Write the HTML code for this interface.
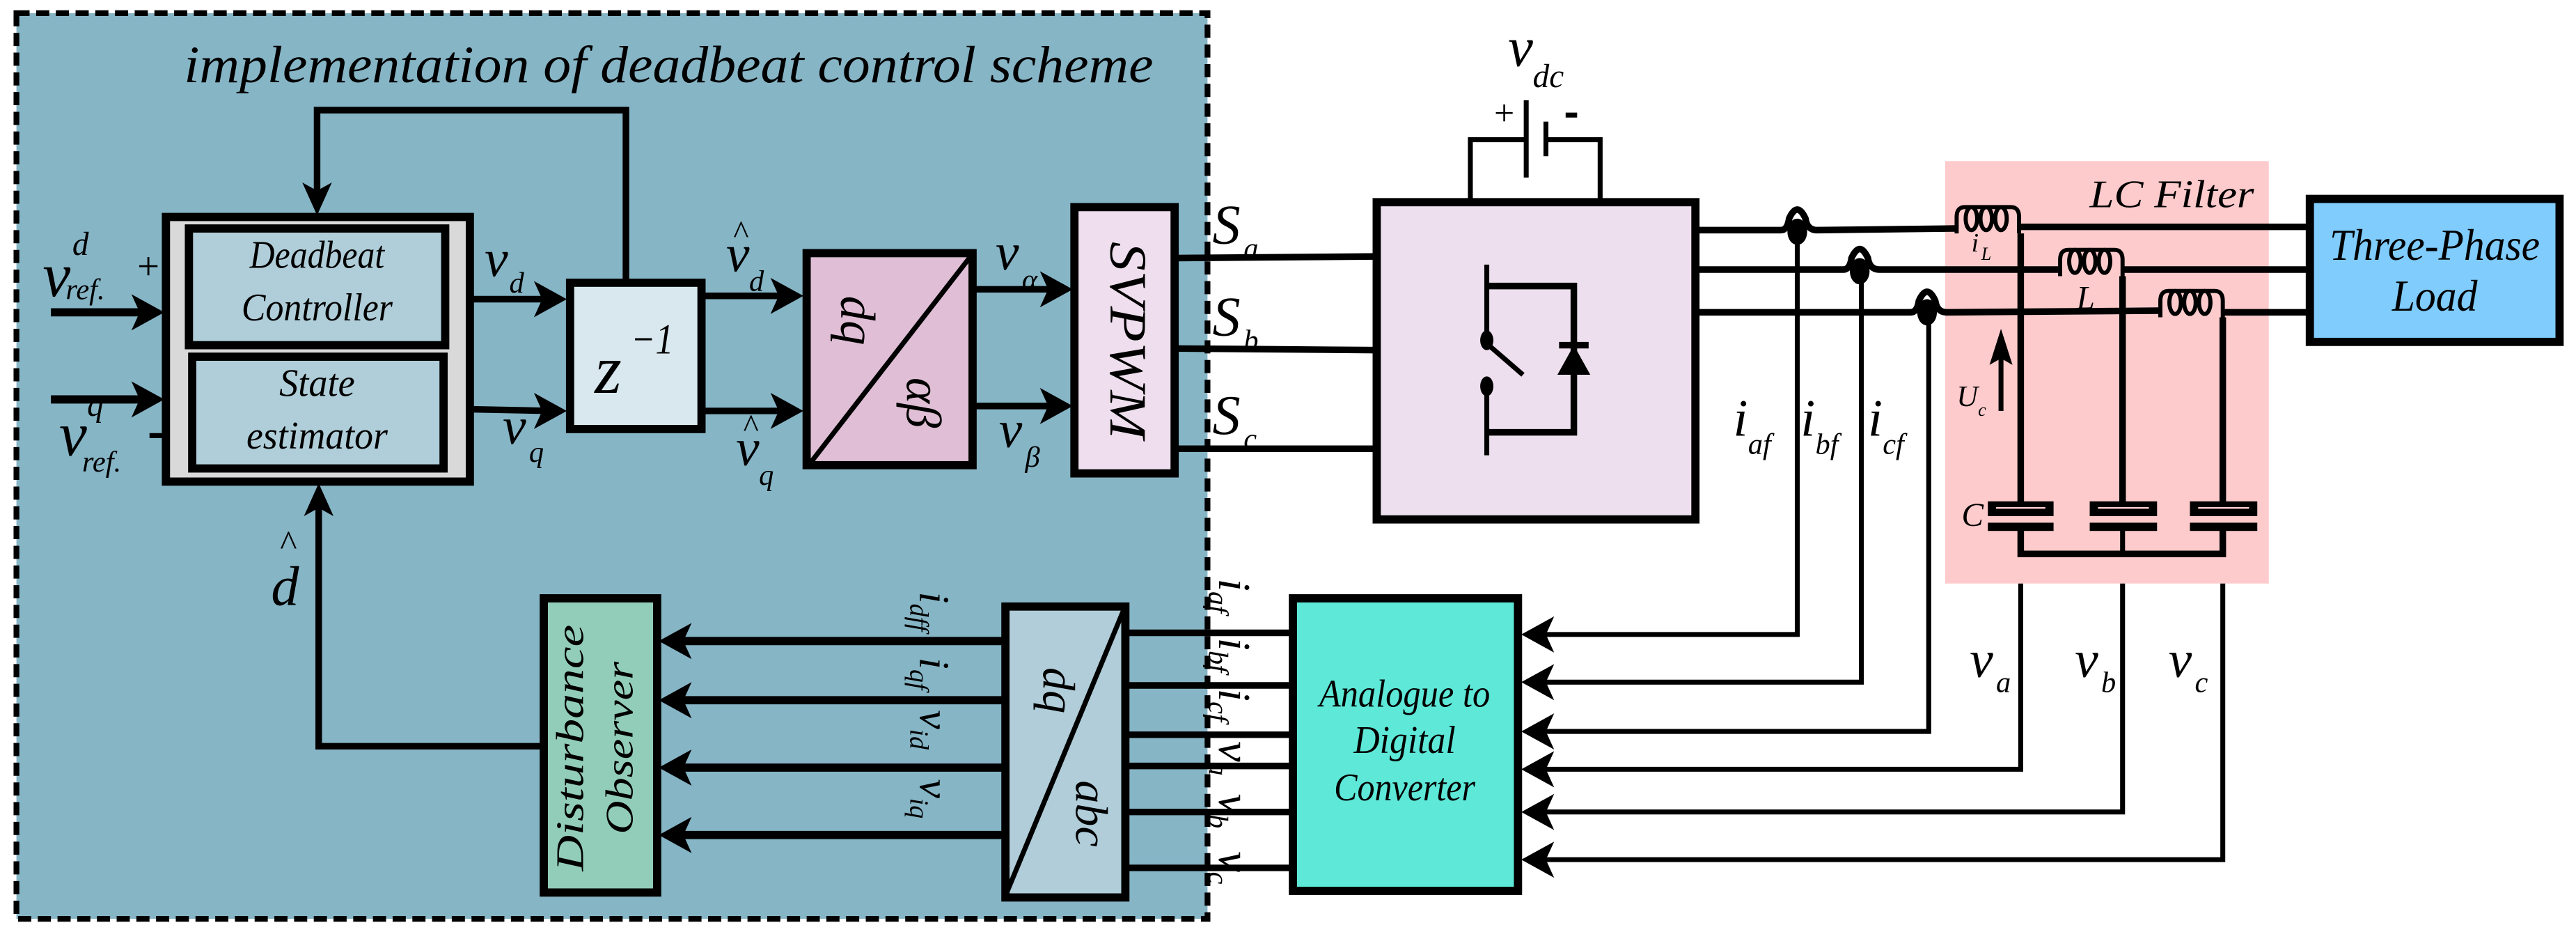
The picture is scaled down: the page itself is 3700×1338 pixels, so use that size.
<!DOCTYPE html>
<html><head><meta charset="utf-8"><style>
html,body{margin:0;padding:0;background:#fff;}
svg{display:block;}
svg text{font-family:"Liberation Serif","Times New Roman","DejaVu Serif",serif;font-style:italic;fill:#000;}
</style></head><body>
<svg width="3700" height="1338" viewBox="0 0 1568 567" xmlns="http://www.w3.org/2000/svg" font-family="Liberation Serif, Times New Roman, DejaVu Serif, serif">
<rect x="10" y="8" width="725" height="551" fill="#86b5c6" stroke="#000" stroke-width="3.5" stroke-dasharray="8,4"/>
<text x="112" y="50" font-size="32" textLength="590" lengthAdjust="spacingAndGlyphs">implementation of deadbeat control scheme</text>

<polyline points="381,171 381,67 193,67 193,120" fill="none" stroke="#000" stroke-width="4"/>
<polygon points="193,131 184,111 193,116 202,111" fill="#000"/>

<rect x="101" y="132" width="185" height="161" fill="#d9d9d9" stroke="#000" stroke-width="5"/>
<rect x="115" y="139" width="156" height="71" fill="#b0ced9" stroke="#000" stroke-width="5"/>
<rect x="117" y="217" width="153" height="68" fill="#b0ced9" stroke="#000" stroke-width="5"/>
<text x="193" y="163" font-size="24" text-anchor="middle" textLength="82" lengthAdjust="spacingAndGlyphs">Deadbeat</text>
<text x="193" y="195" font-size="24" text-anchor="middle" textLength="92" lengthAdjust="spacingAndGlyphs">Controller</text>
<text x="193" y="241" font-size="24" text-anchor="middle" textLength="46" lengthAdjust="spacingAndGlyphs">State</text>
<text x="193" y="273" font-size="24" text-anchor="middle" textLength="86" lengthAdjust="spacingAndGlyphs">estimator</text>

<line x1="31" y1="190" x2="92" y2="190" stroke="#000" stroke-width="5"/>
<polygon points="100,190 80,179 85,190 80,201" fill="#000"/>
<line x1="31" y1="243" x2="92" y2="243" stroke="#000" stroke-width="5"/>
<polygon points="100,243 80,232 85,243 80,254" fill="#000"/>
<text x="26" y="180" font-size="38">v</text>
<text x="44" y="155" font-size="20">d</text>
<text x="40" y="182" font-size="18">ref.</text>
<text x="82" y="170" font-size="24" font-style="normal">+</text>
<text x="36" y="277" font-size="38">v</text>
<text x="53" y="253" font-size="20">q</text>
<text x="50" y="287" font-size="18">ref.</text>
<line x1="91" y1="265" x2="99" y2="265" stroke="#000" stroke-width="3"/>

<line x1="287" y1="182" x2="336" y2="182" stroke="#000" stroke-width="4"/>
<polygon points="345,182 325,171 330,182 325,193" fill="#000"/>
<line x1="287" y1="249" x2="336" y2="250" stroke="#000" stroke-width="4"/>
<polygon points="345,250 325,239 330,250 325,261" fill="#000"/>
<text x="295" y="168" font-size="32">v</text><text x="310" y="178" font-size="18">d</text>
<text x="306" y="270" font-size="32">v</text><text x="322" y="281" font-size="18">q</text>

<rect x="347" y="172" width="80" height="89" fill="#d9e8ef" stroke="#000" stroke-width="5"/>
<text x="362" y="239" font-size="42">z</text>
<text x="384" y="215" font-size="26" font-style="normal" textLength="26" lengthAdjust="spacingAndGlyphs">−1</text>

<line x1="428" y1="180" x2="480" y2="180" stroke="#000" stroke-width="4"/>
<polygon points="489,180 469,169 474,180 469,191" fill="#000"/>
<line x1="428" y1="250" x2="480" y2="250" stroke="#000" stroke-width="4"/>
<polygon points="489,250 469,239 474,250 469,261" fill="#000"/>
<text x="442" y="165" font-size="32">v</text><text x="446" y="148" font-size="20" font-style="normal">^</text><text x="456" y="177" font-size="18">d</text>
<text x="448" y="283" font-size="32">v</text><text x="452" y="266" font-size="20" font-style="normal">^</text><text x="462" y="295" font-size="18">q</text>

<rect x="491" y="154" width="101" height="129" fill="#e0bfd6" stroke="#000" stroke-width="5"/>
<line x1="590" y1="157" x2="493" y2="282" stroke="#000" stroke-width="3"/>
<text transform="translate(512,195) rotate(90)" font-size="30" text-anchor="middle">dq</text>
<text transform="translate(552,245) rotate(90)" font-size="30" text-anchor="middle">αβ</text>

<line x1="593" y1="176" x2="644" y2="176" stroke="#000" stroke-width="4"/>
<polygon points="653,176 633,165 638,176 633,187" fill="#000"/>
<line x1="593" y1="247" x2="644" y2="247" stroke="#000" stroke-width="4"/>
<polygon points="653,247 633,236 638,247 633,258" fill="#000"/>
<text x="606" y="164" font-size="32">v</text><text x="622" y="176" font-size="18">α</text>
<text x="608" y="272" font-size="32">v</text><text x="624" y="284" font-size="18">β</text>

<rect x="654" y="126" width="61" height="162" fill="#efdfee" stroke="#000" stroke-width="5"/>
<text transform="translate(676,207) rotate(90)" font-size="32" text-anchor="middle" textLength="120" lengthAdjust="spacingAndGlyphs">SVPWM</text>

<line x1="715" y1="157" x2="838" y2="156" stroke="#000" stroke-width="4"/>
<line x1="715" y1="212" x2="838" y2="213" stroke="#000" stroke-width="4"/>
<line x1="715" y1="273" x2="838" y2="273" stroke="#000" stroke-width="4"/>
<text x="738" y="148" font-size="34">S</text><text x="757" y="157" font-size="18">a</text>
<text x="738" y="204" font-size="34">S</text><text x="757" y="213" font-size="18">b</text>
<text x="738" y="264" font-size="34">S</text><text x="757" y="273" font-size="18">c</text>

<rect x="838" y="123" width="194" height="193" fill="#eedfee" stroke="#000" stroke-width="5"/>
<polyline points="895,121 895,85 929,85" fill="none" stroke="#000" stroke-width="3"/>
<polyline points="941,85 974,85 974,121" fill="none" stroke="#000" stroke-width="3"/>
<line x1="929" y1="61" x2="929" y2="108" stroke="#000" stroke-width="3"/>
<line x1="941" y1="74" x2="941" y2="95" stroke="#000" stroke-width="3"/>
<text x="908" y="76" font-size="22" font-style="normal">+</text>
<line x1="953" y1="70" x2="960" y2="70" stroke="#000" stroke-width="3"/>
<text x="918" y="40" font-size="34">v</text><text x="933" y="53" font-size="20">dc</text>
<polyline points="905,161 905,205" fill="none" stroke="#000" stroke-width="3"/>
<ellipse cx="905" cy="207" rx="4" ry="6" fill="#000"/>
<line x1="905" y1="209" x2="927" y2="228" stroke="#000" stroke-width="3"/>
<ellipse cx="905" cy="235" rx="4" ry="6" fill="#000"/>
<line x1="905" y1="235" x2="905" y2="277" stroke="#000" stroke-width="3"/>
<polyline points="905,174 958,174 958,263 905,263" fill="none" stroke="#000" stroke-width="4"/>
<polygon points="958,210 948,228 968,228" fill="#000"/>
<line x1="949" y1="210" x2="967" y2="210" stroke="#000" stroke-width="4"/>

<rect x="1184" y="98" width="197" height="257" fill="#fecbcc"/>
<text x="1272" y="126" font-size="24" textLength="100" lengthAdjust="spacingAndGlyphs">LC Filter</text>

<path d="M1032,140 H1084 Q1088,140 1089,133 Q1094,122 1099,133 Q1100,140 1106,140 L1190,139" fill="none" stroke="#000" stroke-width="4"/>
<path d="M1032,164 H1122 Q1126,164 1127,157 Q1132,146 1137,157 Q1138,164 1144,164 L1253,164" fill="none" stroke="#000" stroke-width="4"/>
<path d="M1032,190 H1163 Q1167,190 1168,183 Q1173,172 1178,183 Q1179,190 1185,190 L1314,189" fill="none" stroke="#000" stroke-width="4"/>
<line x1="1229" y1="138" x2="1404" y2="138" stroke="#000" stroke-width="4"/>
<line x1="1292" y1="164" x2="1404" y2="164" stroke="#000" stroke-width="4"/>
<line x1="1352" y1="190" x2="1404" y2="190" stroke="#000" stroke-width="4"/>
<g fill="none" stroke="#000" stroke-width="2.5">
<path d="M1191,142 v-10 q0,-6 5,-6 h28 q5,0 5,6 v10"/>
<ellipse cx="1200" cy="133" rx="3.5" ry="7"/><ellipse cx="1209" cy="133" rx="3.5" ry="7"/><ellipse cx="1218" cy="133" rx="3.5" ry="7"/>
<path d="M1254,168 v-10 q0,-6 5,-6 h28 q5,0 5,6 v10"/>
<ellipse cx="1263" cy="159" rx="3.5" ry="7"/><ellipse cx="1272" cy="159" rx="3.5" ry="7"/><ellipse cx="1281" cy="159" rx="3.5" ry="7"/>
<path d="M1315,193 v-10 q0,-6 5,-6 h28 q5,0 5,6 v10"/>
<ellipse cx="1324" cy="184" rx="3.5" ry="7"/><ellipse cx="1333" cy="184" rx="3.5" ry="7"/><ellipse cx="1342" cy="184" rx="3.5" ry="7"/>
</g>
<text x="1200" y="153" font-size="16">i</text><text x="1206" y="158" font-size="11">L</text>
<text x="1264" y="188" font-size="20" font-style="normal">L</text>
<line x1="1230" y1="142" x2="1230" y2="306" stroke="#000" stroke-width="4"/>
<line x1="1292" y1="168" x2="1292" y2="306" stroke="#000" stroke-width="4"/>
<line x1="1353" y1="193" x2="1353" y2="306" stroke="#000" stroke-width="4"/>
<g fill="#000">
<rect x="1210" y="305" width="40" height="9"/><rect x="1210" y="318" width="40" height="5"/>
<rect x="1272" y="305" width="41" height="9"/><rect x="1272" y="318" width="41" height="5"/>
<rect x="1333" y="305" width="41" height="9"/><rect x="1333" y="318" width="41" height="5"/>
</g>
<g stroke="#fecbcc" stroke-width="1"><line x1="1215" y1="309" x2="1245" y2="309"/><line x1="1277" y1="309" x2="1308" y2="309"/><line x1="1338" y1="309" x2="1369" y2="309"/></g>
<text x="1194" y="320" font-size="20" font-style="normal">C</text>
<polyline points="1230,322 1230,337 1353,337 1353,322" fill="none" stroke="#000" stroke-width="4"/>
<line x1="1292" y1="322" x2="1292" y2="337" stroke="#000" stroke-width="3"/>
<line x1="1218" y1="250" x2="1218" y2="212" stroke="#000" stroke-width="3"/>
<polygon points="1218,200 1211,222 1218,218 1225,222" fill="#000"/>
<text x="1191" y="247" font-size="18" font-style="normal">U</text><text x="1204" y="253" font-size="11" font-style="normal">c</text>

<rect x="1406" y="121" width="152" height="87" fill="#80ccfc" stroke="#000" stroke-width="5"/>
<text x="1482" y="158" font-size="27" text-anchor="middle" textLength="128" lengthAdjust="spacingAndGlyphs">Three-Phase</text>
<text x="1482" y="189" font-size="27" text-anchor="middle" textLength="52" lengthAdjust="spacingAndGlyphs">Load</text>

<ellipse cx="1094" cy="141" rx="6" ry="8" fill="#000"/>
<ellipse cx="1132" cy="165" rx="6" ry="8" fill="#000"/>
<ellipse cx="1173" cy="190" rx="6" ry="8" fill="#000"/>
<g fill="none" stroke="#000" stroke-width="3">
<polyline points="1094,141 1094,386 936,386"/>
<polyline points="1133,165 1133,415 936,415"/>
<polyline points="1174,190 1174,445 936,445"/>
<polyline points="1230,355 1230,468 936,468"/>
<polyline points="1292,355 1292,494 936,494"/>
<polyline points="1353,355 1353,523 936,523"/>
</g>
<g fill="#000">
<polygon points="926,386 946,375 941,386 946,397"/>
<polygon points="926,415 946,404 941,415 946,426"/>
<polygon points="926,445 946,434 941,445 946,456"/>
<polygon points="926,468 946,457 941,468 946,479"/>
<polygon points="926,494 946,483 941,494 946,505"/>
<polygon points="926,523 946,512 941,523 946,534"/>
</g>
<text x="1055" y="265" font-size="32">i</text><text x="1064" y="276" font-size="18">af</text>
<text x="1096" y="265" font-size="32">i</text><text x="1105" y="276" font-size="18">bf</text>
<text x="1137" y="265" font-size="32">i</text><text x="1146" y="276" font-size="18">cf</text>
<text x="1199" y="412" font-size="32">v</text><text x="1215" y="421" font-size="18">a</text>
<text x="1263" y="412" font-size="32">v</text><text x="1279" y="421" font-size="18">b</text>
<text x="1320" y="412" font-size="32">v</text><text x="1336" y="421" font-size="18">c</text>

<rect x="787" y="364" width="137" height="178" fill="#5de8d8" stroke="#000" stroke-width="5"/>
<text x="855" y="430" font-size="24" text-anchor="middle" textLength="104" lengthAdjust="spacingAndGlyphs">Analogue to</text>
<text x="855" y="458" font-size="24" text-anchor="middle" textLength="62" lengthAdjust="spacingAndGlyphs">Digital</text>
<text x="855" y="487" font-size="24" text-anchor="middle" textLength="86" lengthAdjust="spacingAndGlyphs">Converter</text>

<g stroke="#000" stroke-width="4">
<line x1="686" y1="385" x2="787" y2="385"/>
<line x1="686" y1="417" x2="787" y2="417"/>
<line x1="686" y1="447" x2="787" y2="447"/>
<line x1="686" y1="466" x2="787" y2="466"/>
<line x1="686" y1="494" x2="787" y2="494"/>
<line x1="686" y1="528" x2="787" y2="528"/>
</g>
<g font-size="28">
<text transform="translate(742,352) rotate(90)">i<tspan font-size="17" dy="6">af</tspan></text>
<text transform="translate(742,388) rotate(90)">i<tspan font-size="17" dy="6">bf</tspan></text>
<text transform="translate(742,419) rotate(90)">i<tspan font-size="17" dy="6">cf</tspan></text>
<text transform="translate(742,451) rotate(90)">v<tspan font-size="17" dy="6">a</tspan></text>
<text transform="translate(742,483) rotate(90)">v<tspan font-size="17" dy="6">b</tspan></text>
<text transform="translate(742,518) rotate(90)">v<tspan font-size="17" dy="6">c</tspan></text>
</g>

<rect x="612" y="369" width="73" height="177" fill="#b0cdd9" stroke="#000" stroke-width="5"/>
<line x1="684" y1="371" x2="612" y2="545" stroke="#000" stroke-width="3"/>
<text transform="translate(635,420) rotate(90)" font-size="28" text-anchor="middle">dq</text>
<text transform="translate(655,495) rotate(90)" font-size="28" text-anchor="middle">abc</text>

<g stroke="#000" stroke-width="5">
<line x1="610" y1="390" x2="412" y2="390"/>
<line x1="610" y1="426" x2="412" y2="426"/>
<line x1="610" y1="467" x2="412" y2="467"/>
<line x1="610" y1="508" x2="412" y2="508"/>
</g>
<g fill="#000">
<polygon points="401,390 421,379 416,390 421,401"/>
<polygon points="401,426 421,415 416,426 421,437"/>
<polygon points="401,467 421,456 416,467 421,478"/>
<polygon points="401,508 421,497 416,508 421,519"/>
</g>
<g font-size="26">
<text transform="translate(560,360) rotate(90)">i<tspan font-size="16" dy="6">dff</tspan></text>
<text transform="translate(560,400) rotate(90)">i<tspan font-size="16" dy="6">qf</tspan></text>
<text transform="translate(560,432) rotate(90)">v<tspan font-size="16" dy="6">id</tspan></text>
<text transform="translate(560,474) rotate(90)">v<tspan font-size="16" dy="6">iq</tspan></text>
</g>

<rect x="331" y="364" width="69" height="179" fill="#92cdb9" stroke="#000" stroke-width="5"/>
<text transform="translate(355,455) rotate(-90)" font-size="24" text-anchor="middle" textLength="150" lengthAdjust="spacingAndGlyphs">Disturbance</text>
<text transform="translate(385,455) rotate(-90)" font-size="24" text-anchor="middle" textLength="105" lengthAdjust="spacingAndGlyphs">Observer</text>

<polyline points="331,454 194,454 194,305" fill="none" stroke="#000" stroke-width="4"/>
<polygon points="194,294 185,314 194,309 203,314" fill="#000"/>
<text x="165" y="368" font-size="34">d</text><text x="170" y="338" font-size="22" font-style="normal">^</text>
</svg>
</body></html>
